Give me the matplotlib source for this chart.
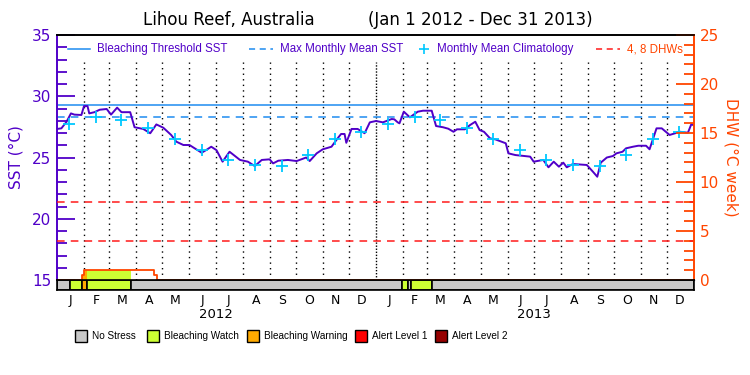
import matplotlib
matplotlib.use("Agg")
import matplotlib.pyplot as plt
from matplotlib.patches import Rectangle
from matplotlib.ticker import MultipleLocator
import pandas as pd

# daily SST
sst_dates = ["2012-01-01", "2012-01-06", "2012-01-12", "2012-01-17", "2012-01-21", "2012-01-29",
             "2012-02-01", "2012-02-05", "2012-02-07", "2012-02-13", "2012-02-19", "2012-02-27",
             "2012-03-03", "2012-03-10", "2012-03-15", "2012-03-25", "2012-03-30", "2012-04-09",
             "2012-04-17", "2012-04-24", "2012-05-02", "2012-05-11", "2012-05-17", "2012-05-25",
             "2012-06-01", "2012-06-07", "2012-06-15", "2012-06-20", "2012-06-26", "2012-07-02",
             "2012-07-09", "2012-07-17", "2012-07-29", "2012-08-07", "2012-08-15", "2012-08-23",
             "2012-09-01", "2012-09-05", "2012-09-11", "2012-09-22", "2012-10-02", "2012-10-13",
             "2012-10-17", "2012-10-25", "2012-11-01", "2012-11-11", "2012-11-18", "2012-11-22",
             "2012-11-26", "2012-11-28", "2012-12-04", "2012-12-11", "2012-12-19", "2012-12-25",
             "2013-01-01", "2013-01-09", "2013-01-19", "2013-01-22", "2013-01-26", "2013-01-28",
             "2013-02-02", "2013-02-09", "2013-02-18", "2013-02-24", "2013-03-06", "2013-03-11",
             "2013-03-19", "2013-03-25", "2013-03-31", "2013-04-04", "2013-04-13", "2013-04-19",
             "2013-04-25", "2013-04-30", "2013-05-05", "2013-05-12", "2013-05-18", "2013-05-30",
             "2013-06-02", "2013-06-10", "2013-06-27", "2013-07-01", "2013-07-12", "2013-07-18",
             "2013-07-24", "2013-07-30", "2013-08-04", "2013-08-08", "2013-08-15", "2013-08-31",
             "2013-09-07", "2013-09-12", "2013-09-16", "2013-09-23", "2013-09-30", "2013-10-04",
             "2013-10-11", "2013-10-15", "2013-10-23", "2013-10-29", "2013-11-07", "2013-11-11",
             "2013-11-19", "2013-11-25", "2013-12-04", "2013-12-16", "2013-12-25", "2013-12-29",
             "2013-12-31"]
sst_vals = [27.33, 27.38, 27.92, 28.60, 28.50, 28.47,
            29.20, 29.20, 28.60, 28.70, 28.90, 28.96,
            28.50, 29.07, 28.70, 28.70, 27.47, 27.33,
            26.98, 27.70, 27.43, 26.84, 26.29, 26.02,
            26.02, 25.75, 25.39, 25.60, 25.88, 25.60,
            24.66, 25.47, 24.80, 24.66, 24.30, 24.80,
            24.85, 24.52, 24.74, 24.80, 24.71, 25.00,
            24.71, 25.34, 25.67, 25.88, 26.56, 26.92,
            26.92, 26.20, 27.33, 27.33, 26.98, 27.87,
            27.98, 27.87, 28.14, 28.12, 27.87, 27.79,
            28.74, 28.28, 28.74, 28.82, 28.82, 27.57,
            27.47, 27.35, 27.10, 27.30, 27.30, 27.65,
            27.92, 27.24, 27.10, 26.56, 26.48, 26.16,
            25.34, 25.20, 25.07, 24.66, 24.80, 24.20,
            24.66, 24.25, 24.58, 24.20, 24.47, 24.39,
            23.84, 23.43, 24.58, 25.00, 25.12, 25.34,
            25.47, 25.75, 25.88, 25.96, 25.96, 25.67,
            27.38, 27.38, 26.84, 27.10, 27.02, 27.73,
            27.65]

# monthly mean climatology (Jan..Dec)
clim_vals = [27.75, 28.28, 28.06, 27.38, 26.53, 25.60, 24.77, 24.36, 24.33, 25.17, 26.50, 27.10]
mmm = 28.28
threshold = 29.28
dhw_levels = [4, 8]

# degree heating weeks (step values)
dhw_dates = ["2012-01-01", "2012-01-30", "2012-02-01", "2012-04-21", "2012-04-25", "2013-12-31"]
dhw_vals = [0.0, 0.5, 1.0, 0.5, 0.0, 0.0]

# stress periods: start date, level (0 none, 1 watch, 2 warning, 3 alert1, 4 alert2)
stress_start = ["2012-01-01", "2012-01-16", "2012-01-30", "2012-02-05", "2012-03-26",
                "2013-01-31", "2013-02-07", "2013-02-10", "2013-03-06"]
stress_level = [0, 1, 2, 1, 0, 1, 0, 1, 0]

stress_names = ["No Stress", "Bleaching Watch", "Bleaching Warning", "Alert Level 1", "Alert Level 2"]
stress_colors = ["#c8c8c8", "#ccff33", "#ffaa00", "#ff0000", "#960000"]
month_letters = ["J", "F", "M", "A", "M", "J", "J", "A", "S", "O", "N", "D"]
years = [2012, 2013]

PURPLE = "#5000c8"
ORANGE = "#ff4500"
BLUE = "#1e8cf0"
CYAN = "#00c8ff"
SMALL = "Liberation Sans"

t0, t1 = pd.Timestamp("2012-01-01"), pd.Timestamp("2014-01-01")

fig = plt.figure(figsize=(7.5, 3.75), dpi=100)
ax = fig.add_axes([57 / 750, 1 - 280 / 375, 637 / 750, 245 / 375])
ax2 = ax.twinx()
axb = fig.add_axes([57 / 750, 1 - 290 / 375, 637 / 750, 10 / 375], sharex=ax)

ax.set_xlim(t0, t1)
ax.set_ylim(15, 35)
ax2.set_ylim(0, 25)

# month grid
month_starts = pd.date_range(t0, t1, freq="MS")
for d in month_starts[1:-1]:
    ls = (0, (1, 1.2)) if d.month == 1 else (0, (1, 3))
    ax.axvline(d, ymax=(280 - 62) / 245, color="black", lw=1, ls=ls, zorder=1)

# threshold lines
ax.axhline(threshold, color=BLUE, lw=1.1, zorder=2)
ax.axhline(mmm, color=BLUE, lw=1.1, ls=(0, (5, 4)), zorder=2)
for lev in dhw_levels:
    ax2.axhline(lev, color="#ff1a1a", lw=1.1, ls=(0, (5, 4)), zorder=2)

# DHW with stress-coloured fill
daily = pd.date_range(t0, "2013-12-31", freq="D")
dhw_s = pd.Series(dhw_vals, index=pd.to_datetime(dhw_dates)).reindex(daily, method="ffill")
st = pd.to_datetime(stress_start)
ends = list(st[1:]) + [t1]
for s, e, lev in zip(st, ends, stress_level):
    if lev == 0:
        continue
    m = (daily >= s) & (daily <= e)
    ax2.fill_between(daily[m], 0, dhw_s[m].values, step="post", color=stress_colors[lev], lw=0)
ax2.step(pd.to_datetime(dhw_dates), dhw_vals, where="post", color=ORANGE, lw=1.3)

# SST and climatology
ax.plot(pd.to_datetime(sst_dates), sst_vals, color=PURPLE, lw=1.4, zorder=4)
clim_dates = [d + pd.Timedelta(days=14) for d in month_starts[:-1]]
ax.plot(clim_dates, clim_vals * 2, ls="none", marker="+", ms=9, mew=1.3, color=CYAN, zorder=5)

# stress bar
for s, e, lev in zip(st, ends, stress_level):
    axb.axvspan(s, e, color=stress_colors[lev], ec="black", lw=1.2)
axb.set_ylim(0, 1)
axb.set_yticks([])
for sp in axb.spines.values():
    sp.set_linewidth(1.2)

mids = [d + (d + pd.offsets.MonthEnd(0) - d) / 2 for d in month_starts[:-1]]
axb.set_xticks(mids)
axb.set_xticklabels(month_letters * 2, fontsize=9)
axb.tick_params(axis="x", length=0, pad=3)
for y in years:
    axb.annotate(str(y), xy=(pd.Timestamp(f"{y}-07-01"), 0), xycoords=("data", "axes fraction"),
                 xytext=(0, -13), textcoords="offset points", ha="center", va="top", fontsize=9.5)

# axes styling
ax.tick_params(axis="x", bottom=False, labelbottom=False)
ax.yaxis.set_major_locator(MultipleLocator(5))
ax.yaxis.set_minor_locator(MultipleLocator(1))
ax.tick_params(axis="y", which="major", direction="in", length=13, width=1.3, colors=PURPLE, labelsize=11, pad=4)
ax.tick_params(axis="y", which="minor", direction="in", length=7, width=1.3, colors=PURPLE)
ax2.yaxis.set_major_locator(MultipleLocator(5))
ax2.yaxis.set_minor_locator(MultipleLocator(1))
ax2.tick_params(axis="y", which="major", direction="in", length=13, width=1.3, colors=ORANGE, labelsize=11, pad=4)
ax2.tick_params(axis="y", which="minor", direction="in", length=7, width=1.3, colors=ORANGE)
ax.spines["left"].set_color(PURPLE)
ax.spines["left"].set_linewidth(1.4)
ax2.spines["right"].set_color(ORANGE)
ax2.spines["right"].set_linewidth(1.4)
ax2.spines["left"].set_visible(False)
ax.spines["right"].set_visible(False)
ax.spines["top"].set_linewidth(1.2)
ax2.spines["top"].set_linewidth(1.2)

ax.set_ylabel("SST (°C)", color=PURPLE, fontsize=11, labelpad=6)
ax2.set_ylabel("DHW (°C week)", color=ORANGE, fontsize=11, rotation=270, labelpad=14)

# title in two parts
fig.text(229 / 750, 1 - 20 / 375, "Lihou Reef, Australia", ha="center", va="center", fontsize=12)
fig.text(480 / 750, 1 - 20 / 375, "(Jan 1 2012 - Dec 31 2013)", ha="center", va="center", fontsize=12)

# in-plot legend
ly = (280 - 49) / 245
def fx(px):
    return (px - 57) / 637
ax.plot([fx(68), fx(90)], [ly, ly], color=BLUE, lw=1.1, transform=ax.transAxes)
ax.text(fx(97), ly, "Bleaching Threshold SST", color=PURPLE, fontsize=8.3, family=SMALL,
        va="center", transform=ax.transAxes)
ax.plot([fx(249), fx(273)], [ly, ly], color=BLUE, lw=1.1, ls=(0, (4, 3)), transform=ax.transAxes)
ax.text(fx(280), ly, "Max Monthly Mean SST", color=PURPLE, fontsize=8.3, family=SMALL,
        va="center", transform=ax.transAxes)
ax.plot([fx(424)], [ly], marker="+", ms=7, mew=1.2, color=CYAN, transform=ax.transAxes)
ax.text(fx(437), ly, "Monthly Mean Climatology", color=PURPLE, fontsize=8.3, family=SMALL,
        va="center", transform=ax.transAxes)
ax.plot([fx(596), fx(620)], [ly, ly], color="#ff1a1a", lw=1.1, ls=(0, (4, 3)), transform=ax.transAxes)
ax.text(fx(627), ly, "4, 8 DHWs", color=ORANGE, fontsize=8.3, family=SMALL,
        va="center", transform=ax.transAxes)

# stress legend
box_x = [75, 147, 247, 355, 435]
for bx, name, col in zip(box_x, stress_names, stress_colors):
    fig.patches.append(Rectangle((bx / 750, 1 - 342 / 375), 12 / 750, 12 / 375, transform=fig.transFigure,
                                 facecolor=col, edgecolor="black", lw=1))
    fig.text((bx + 17) / 750, 1 - 336 / 375, name, fontsize=7.2, family=SMALL, va="center")

fig.savefig("out.png", dpi=100)
